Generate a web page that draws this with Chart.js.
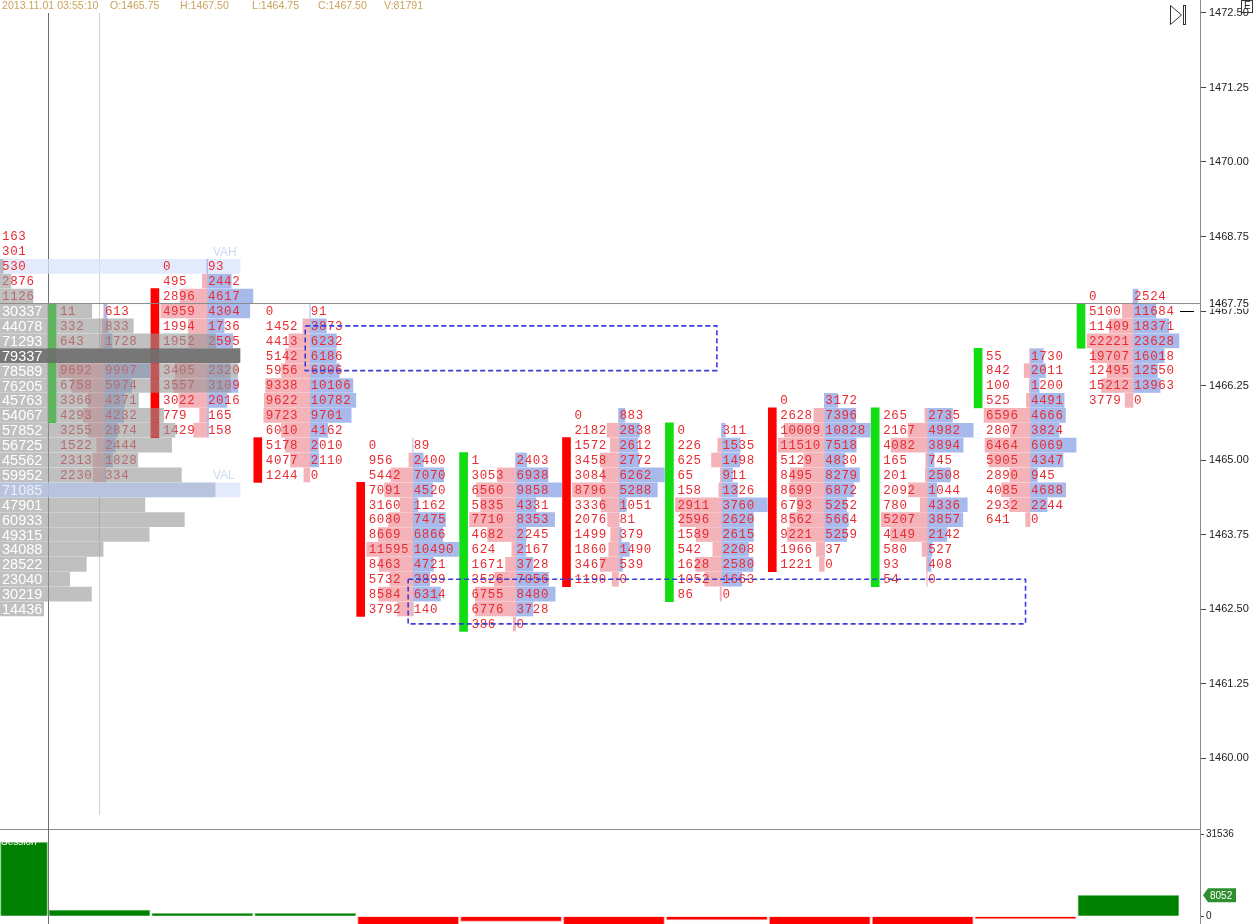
<!DOCTYPE html>
<html>
<head>
<meta charset="utf-8">
<script src="https://cdn.jsdelivr.net/npm/chart.js@4.4.0/dist/chart.umd.min.js"></script>
<style>
	html, body { margin: 0; padding: 0; background: #fff; overflow: hidden; }
	#wrap { position: relative; width: 1255px; height: 924px; }
	#footprint { position: absolute; left: 0; top: 0; }
	#delta { position: absolute; left: 0; top: 829px; }
</style>
</head>
<body>
<div id="wrap">
	<canvas id="footprint" width="1255" height="829"></canvas>
	<canvas id="delta" width="1255" height="95"></canvas>
</div>
<script>
// ---- data ----
const TICK = 0.25;
const priceTicks = [1460.00, 1461.25, 1462.50, 1463.75, 1465.00, 1466.25, 1467.50, 1468.75, 1470.00, 1471.25, 1472.50];

// top price of each footprint column, rows go down one tick at a time
const colTop = [1467.50, 1468.25, 1467.50, 1465.25, 1465.00, 1465.75, 1465.50, 1466.00, 1465.75, 1466.75, 1467.75];
const opens = [1465.75, 1467.75, 1465.25, 1464.50, 1462.25, 1465.25, 1462.75, 1465.75, 1463.00, 1466.00, 1467.00];
const closes = [1467.50, 1465.50, 1464.75, 1462.50, 1465.00, 1463.00, 1465.50, 1463.25, 1465.75, 1466.75, 1467.50];

// null = cell hidden under the POC bar
const bids = [
	[11, 332, 643, null, 9692, 6758, 3366, 4293, 3255, 1522, 2313, 2230],
	[0, 495, 2896, 4959, 1994, 1952, null, 3405, 3557, 3022, 779, 1429],
	[0, 1452, 4413, 5142, 5956, 9338, 9622, 9723, 6010, 5178, 4077, 1244],
	[0, 956, 5442, 7091, 3160, 6080, 8669, 11595, 8463, 5732, 8584, 3792],
	[1, 3053, 6560, 5835, 7710, 4682, 624, 1671, 3526, 6755, 6776, 386],
	[0, 2182, 1572, 3458, 3084, 8796, 3336, 2076, 1499, 1860, 3467, 1190],
	[0, 226, 625, 65, 158, 2911, 2596, 1589, 542, 1628, 1052, 86],
	[0, 2628, 10009, 11510, 5129, 8495, 8699, 6793, 8562, 9221, 1966, 1221],
	[265, 2167, 4082, 165, 201, 2092, 780, 5207, 4149, 580, 93, 54],
	[55, 842, 100, 525, 6596, 2807, 6464, 5905, 2890, 4085, 2932, 641],
	[0, 5100, 11409, 22221, 19707, 12495, 15212, 3779],
];
const asks = [
	[613, 833, 1728, null, 9907, 5974, 4371, 4232, 2874, 2444, 1828, 334],
	[93, 2442, 4617, 4304, 1736, 2595, null, 2320, 3109, 2016, 165, 158],
	[91, 3873, 6232, 6186, 6906, 10106, 10782, 9701, 4162, 2010, 2110, 0],
	[89, 2400, 7070, 4520, 1162, 7475, 6866, 10490, 4721, 3899, 6314, 140],
	[2403, 6938, 9858, 4331, 8353, 2245, 2167, 3728, 7056, 8480, 3728, 0],
	[883, 2838, 2612, 2772, 6262, 5288, 1051, 81, 379, 1490, 539, 0],
	[311, 1535, 1498, 911, 1326, 3760, 2620, 2615, 2208, 2580, 1663, 0],
	[3172, 7396, 10828, 7518, 4830, 8279, 6872, 5252, 5664, 5259, 37, 0],
	[2735, 4982, 3894, 745, 2508, 1044, 4336, 3857, 2142, 527, 408, 0],
	[1730, 2011, 1200, 4491, 4666, 3824, 6069, 4347, 945, 4688, 2244, 0],
	[2524, 11684, 18371, 23628, 16018, 12550, 13963, 0],
];

// previous bar, only its ask numbers are on screen
const prevTop = 1468.75;
const prevAsks = [163, 301, 530, 2876, 1126];

// session volume profile
const profileTop = 1468.25;
const profileVol = [1000, 3600, 10900, 30337, 44078, 71293, 79337, 78589, 76205, 45763, 54067, 57852,
	56725, 45562, 59952, 71085, 47901, 60933, 49315, 34088, 28522, 23040, 30219, 14436];
const vah = 1468.25;
const val = 1464.50;

// dashed zones
const zoneFromCol = [2, 3];
const zoneToCol = [6, 9];
const zoneHigh = [1467.25, 1463.00];
const zoneLow = [1466.50, 1462.25];

const lastPrice = 1467.50;
const askPrice = 1467.75;
const cursorCol = 0;

// delta panel
const sessionDelta = 28300;
const colDelta = [2420, 1150, 1180, -5200, -1920, -4100, -1420, -5600, -4800, -1000, 8052];
const deltaTicks = [0, 31536];

const header = ['2013.11.01 03:55:10', 'O:1465.75', 'H:1467.50', 'L:1464.75', 'C:1467.50', 'V:81791'];

// ---- layout ----
const COL_PX = 102.9;
const X_MIN = -48 / COL_PX;
const X_MAX = (1200 - 48) / COL_PX;
const Y_MAX = 1472.718;
const Y_MIN = 1458.809;
const MID = 56 / COL_PX;
const HALF_BAR = 46 / COL_PX;
const CANDLE_X = 4 / COL_PX;
const PROFILE_W = 240 / COL_PX;
const TEXT_RED = 'rgb(232, 44, 50)';

const maxOf = (list) => Math.max(...list.filter((v) => v !== null));

const bidData = [];
const askData = [];
bids.forEach((col, k) => {
	const bMax = maxOf(col);
	const aMax = maxOf(asks[k]);
	const mid = k + MID;
	col.forEach((b, i) => {
		const p = colTop[k] - i * TICK;
		if (b) bidData.push({ y: p, x: [mid - (b / bMax) * HALF_BAR, mid] });
		const a = asks[k][i];
		if (a) askData.push({ y: p, x: [mid, mid + (a / aMax) * HALF_BAR] });
	});
});

const candleData = opens.map((o, k) => ({
	x: k + CANDLE_X,
	y: [Math.min(o, closes[k]) - TICK / 2, Math.max(o, closes[k]) + TICK / 2],
}));
const candleColors = opens.map((o, k) => (closes[k] >= o ? '#12dc12' : '#ff0000'));

const pMax = Math.max(...profileVol);
const profileData = profileVol.map((v, i) => ({
	y: profileTop - i * TICK,
	x: [X_MIN, X_MIN + (v / pMax) * PROFILE_W],
}));
const profileColors = profileVol.map((v, i) => {
	const p = profileTop - i * TICK;
	if (v === pMax) return 'rgba(112, 112, 112, 0.95)';
	if (p === val) return 'rgba(168, 180, 210, 0.72)';
	return 'rgba(150, 150, 150, 0.6)';
});

const zoneSets = zoneFromCol.map((from, z) => {
	const x0 = from + 0.5;
	const x1 = zoneToCol[z] + 0.5;
	return {
		type: 'line',
		label: 'zone',
		data: [
			{ x: x0, y: zoneHigh[z] }, { x: x1, y: zoneHigh[z] }, { x: x1, y: zoneLow[z] },
			{ x: x0, y: zoneLow[z] }, { x: x0, y: zoneHigh[z] },
		],
		borderColor: '#3b3bdc',
		borderWidth: 1.6,
		borderDash: [5, 3],
		pointRadius: 0,
		fill: false,
		tension: 0,
		order: 10,
	};
});

function drawFootprintText(chart) {
	const { ctx, scales: { x, y } } = chart;
	ctx.save();
	ctx.font = '12.5px "Liberation Mono", monospace';
	ctx.letterSpacing = '0.6px';
	ctx.fillStyle = TEXT_RED;
	ctx.textBaseline = 'middle';
	ctx.textAlign = 'left';
	bids.forEach((col, k) => {
		const mid = x.getPixelForValue(k + MID);
		col.forEach((b, i) => {
			const py = y.getPixelForValue(colTop[k] - i * TICK) + 0.5;
			if (b !== null) ctx.fillText(String(b), mid - 44, py);
			const a = asks[k][i];
			if (a !== null) ctx.fillText(String(a), mid + 1, py);
		});
	});
	const prevMid = x.getPixelForValue(-1 + MID);
	prevAsks.forEach((a, i) => {
		ctx.fillText(String(a), prevMid + 1, y.getPixelForValue(prevTop - i * TICK) + 0.5);
	});
	ctx.restore();
}

function drawProfileText(chart) {
	const { ctx, scales: { x, y } } = chart;
	const left = x.getPixelForValue(X_MIN);
	const full = x.getPixelForValue(X_MIN + PROFILE_W) - left;
	ctx.save();
	ctx.font = '14.5px "Liberation Sans", Arial, sans-serif';
	ctx.textBaseline = 'middle';
	ctx.textAlign = 'left';
	profileVol.forEach((v, i) => {
		const p = profileTop - i * TICK;
		const txt = String(v);
		if ((v / pMax) * full < ctx.measureText(txt).width - 2) return;
		ctx.fillStyle = p === val ? '#eef1fb' : '#ffffff';
		ctx.fillText(txt, left + 2, y.getPixelForValue(p) + 1);
	});
	ctx.font = '12px "Liberation Sans", Arial, sans-serif';
	ctx.fillStyle = '#cdd8f3';
	ctx.fillText('VAH', left + 213, y.getPixelForValue(vah + TICK) + 1);
	ctx.fillText('VAL', left + 213, y.getPixelForValue(val + TICK) + 1);
	ctx.restore();
}

const footprintPlugin = {
	id: 'footprintPlugin',
	beforeDatasetsDraw(chart) {
		const { ctx, chartArea, scales: { x } } = chart;
		ctx.save();
		const sx = Math.round(x.getPixelForValue(0)) + 0.5;
		const cx = Math.round(x.getPixelForValue(cursorCol + 0.5)) + 0.5;
		ctx.lineWidth = 1;
		ctx.strokeStyle = '#d0d0d0';
		ctx.beginPath();
		ctx.moveTo(cx, 13);
		ctx.lineTo(cx, 815);
		ctx.stroke();
		ctx.strokeStyle = '#707070';
		ctx.beginPath();
		ctx.moveTo(sx, 13);
		ctx.lineTo(sx, chartArea.bottom);
		ctx.stroke();
		ctx.restore();
	},
	afterDatasetDraw(chart, args) {
		const label = chart.data.datasets[args.index].label;
		if (label === 'candles') drawFootprintText(chart);
		if (label === 'profile') drawProfileText(chart);
	},
	afterDraw(chart) {
		const { ctx, chartArea, scales: { y } } = chart;
		ctx.save();
		// header
		ctx.font = '10.6px "Liberation Sans", Arial, sans-serif';
		ctx.fillStyle = '#c9a35c';
		ctx.textBaseline = 'middle';
		const hx = [2, 110, 180, 252, 318, 384];
		header.forEach((t, i) => ctx.fillText(t, hx[i], 6));

		// last price marker
		const ly = Math.round(y.getPixelForValue(lastPrice)) + 0.5;
		ctx.strokeStyle = '#000';
		ctx.lineWidth = 1;
		ctx.beginPath();
		ctx.moveTo(chartArea.right - 20, ly);
		ctx.lineTo(chartArea.right - 6, ly);
		ctx.stroke();
		const py = y.getPixelForValue((lastPrice + askPrice) / 2);
		ctx.fillStyle = '#fff';
		ctx.fillRect(chartArea.right + 3, py - 6, 52, 11);
		ctx.fillStyle = '#111';
		ctx.font = '11px "Liberation Sans", Arial, sans-serif';
		ctx.fillText(askPrice.toFixed(2), chartArea.right + 9, py);

		// toolbar glyphs
		ctx.strokeStyle = '#333';
		ctx.beginPath();
		ctx.moveTo(1170.5, 5.5);
		ctx.lineTo(1181.5, 15);
		ctx.lineTo(1170.5, 24.5);
		ctx.closePath();
		ctx.stroke();
		ctx.strokeRect(1183.5, 5.5, 2, 19);
		ctx.strokeRect(1241.5, 0.5, 11, 12);
		ctx.fillStyle = '#222';
		ctx.font = '10px "Liberation Sans", Arial, sans-serif';
		ctx.fillText('E', 1244, 6);
		ctx.restore();
	},
};

const priceScaleFit = (s) => {
	s.width = 55;
	s.paddingTop = 0;
	s.paddingBottom = 0;
};

new Chart(document.getElementById('footprint'), {
	type: 'bar',
	data: {
		datasets: [
			{
				label: 'va',
				indexAxis: 'y',
				data: [vah, val].map((p) => ({ y: p, x: [X_MIN, X_MIN + PROFILE_W] })),
				backgroundColor: 'rgba(218, 227, 250, 0.75)',
				barThickness: 14,
				grouped: false,
				order: 60,
			},
			{
				label: 'bid',
				indexAxis: 'y',
				data: bidData,
				backgroundColor: '#f4b3b9',
				barThickness: 14,
				grouped: false,
				order: 50,
			},
			{
				label: 'ask',
				indexAxis: 'y',
				data: askData,
				backgroundColor: '#a8baec',
				barThickness: 14,
				grouped: false,
				order: 50,
			},
			{
				label: 'candles',
				data: candleData,
				backgroundColor: candleColors,
				barThickness: 8,
				grouped: false,
				order: 40,
			},
			{
				label: 'profile',
				indexAxis: 'y',
				data: profileData,
				backgroundColor: profileColors,
				barThickness: 14,
				grouped: false,
				order: 30,
			},
			{
				type: 'line',
				label: 'price',
				data: [
					{ x: X_MIN, y: (lastPrice + askPrice) / 2 },
					{ x: X_MAX, y: (lastPrice + askPrice) / 2 },
				],
				borderColor: '#8a8a8a',
				borderWidth: 1,
				pointRadius: 0,
				fill: false,
				order: 20,
			},
			...zoneSets,
		],
	},
	options: {
		responsive: false,
		animation: false,
		events: [],
		layout: { padding: 0 },
		plugins: { legend: { display: false }, tooltip: { enabled: false } },
		scales: {
			x: { type: 'linear', display: false, min: X_MIN, max: X_MAX, offset: false, beginAtZero: false },
			y: {
				type: 'linear',
				position: 'right',
				min: Y_MIN,
				max: Y_MAX,
				offset: false,
				beginAtZero: false,
				afterBuildTicks: (s) => { s.ticks = priceTicks.map((v) => ({ value: v })); },
				afterFit: priceScaleFit,
				grid: { display: true, drawOnChartArea: false, drawTicks: true, tickLength: 6, tickColor: '#444', offset: false },
				border: { display: true, color: '#8a8a8a' },
				ticks: {
					autoSkip: false,
					maxRotation: 0,
					padding: 3,
					color: '#222',
					font: { family: '"Liberation Sans", Arial, sans-serif', size: 11 },
					callback: (v) => Number(v).toFixed(2),
				},
			},
		},
	},
	plugins: [footprintPlugin],
});

// ---- delta panel ----
const deltaPlugin = {
	id: 'deltaPlugin',
	afterDraw(chart) {
		const { ctx, chartArea, scales: { x, y } } = chart;
		ctx.save();
		ctx.strokeStyle = '#8a8a8a';
		ctx.lineWidth = 1;
		ctx.beginPath();
		ctx.moveTo(0, 0.5);
		ctx.lineTo(chartArea.right, 0.5);
		ctx.stroke();
		const sx = Math.round(x.getPixelForValue(0)) + 0.5;
		ctx.strokeStyle = '#707070';
		ctx.beginPath();
		ctx.moveTo(sx, 0);
		ctx.lineTo(sx, chart.height);
		ctx.stroke();

		ctx.fillStyle = '#fff';
		ctx.font = '10px "Liberation Sans", Arial, sans-serif';
		ctx.textBaseline = 'middle';
		ctx.fillText('Session', 1, 13);

		const last = colDelta[colDelta.length - 1];
		const by = y.getPixelForValue(last);
		const bx = chartArea.right + 3;
		ctx.fillStyle = '#2f8f2f';
		ctx.beginPath();
		ctx.moveTo(bx, by);
		ctx.lineTo(bx + 5, by - 7);
		ctx.lineTo(bx + 33, by - 7);
		ctx.lineTo(bx + 33, by + 7);
		ctx.lineTo(bx + 5, by + 7);
		ctx.closePath();
		ctx.fill();
		ctx.fillStyle = '#fff';
		ctx.font = '10px "Liberation Sans", Arial, sans-serif';
		ctx.fillText(String(last), bx + 7, by + 0.5);
		ctx.restore();
	},
};

const deltaColor = (v) => (v >= 0 ? '#008000' : '#ff0000');
const deltaEdge = (v) => (v >= 0 ? '#74c174' : '#ff9c9c');

new Chart(document.getElementById('delta'), {
	type: 'bar',
	data: {
		datasets: [
			{
				label: 'session',
				data: [{ x: X_MIN / 2, y: sessionDelta }],
				backgroundColor: deltaColor(sessionDelta),
				borderColor: deltaEdge(sessionDelta),
				borderWidth: 1,
				borderSkipped: 'start',
				barThickness: 47,
				grouped: false,
			},
			{
				label: 'delta',
				data: colDelta.map((v, k) => ({ x: k + 0.5, y: v })),
				backgroundColor: colDelta.map(deltaColor),
				borderColor: colDelta.map(deltaEdge),
				borderWidth: 1,
				borderSkipped: 'start',
				barThickness: 101,
				grouped: false,
			},
		],
	},
	options: {
		responsive: false,
		animation: false,
		events: [],
		layout: { padding: 0 },
		plugins: { legend: { display: false }, tooltip: { enabled: false } },
		scales: {
			x: { type: 'linear', display: false, min: X_MIN, max: X_MAX, offset: false, beginAtZero: false },
			y: {
				type: 'linear',
				position: 'right',
				min: -2950,
				max: 33452,
				beginAtZero: false,
				afterBuildTicks: (s) => { s.ticks = deltaTicks.map((v) => ({ value: v })); },
				afterFit: priceScaleFit,
				grid: { display: true, drawOnChartArea: false, drawTicks: true, tickLength: 4, tickColor: '#444' },
				border: { display: true, color: '#8a8a8a' },
				ticks: {
					autoSkip: false,
					maxRotation: 0,
					padding: 2,
					color: '#222',
					font: { family: '"Liberation Sans", Arial, sans-serif', size: 10 },
					callback: (v) => String(v),
				},
			},
		},
	},
	plugins: [deltaPlugin],
});
</script>
</body>
</html>
